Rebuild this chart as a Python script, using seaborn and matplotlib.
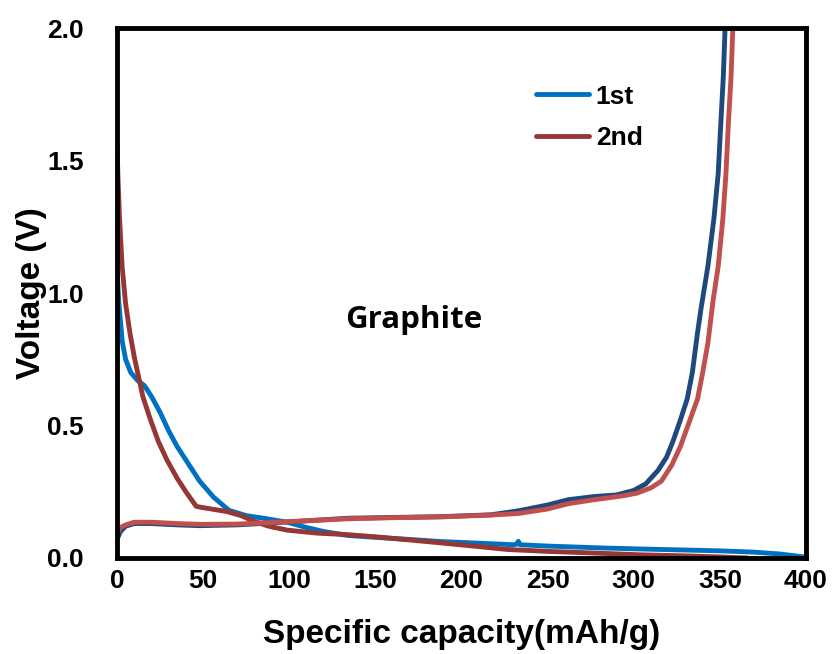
import matplotlib
matplotlib.use("Agg")
import matplotlib.pyplot as plt
import seaborn as sns
import pandas as pd

# ---- data ----
dis1_cap = [0, 1, 3, 5, 8, 12, 16, 20, 25, 30, 35, 40, 48, 56, 65, 75, 85, 99, 110, 120,
            134, 150, 170, 188, 210, 230, 232, 233, 234, 250, 281, 304, 330, 350, 370, 385, 400]
dis1_v = [1.10, 0.97, 0.82, 0.75, 0.70, 0.67, 0.65, 0.61, 0.55, 0.48, 0.42, 0.37, 0.29, 0.23,
          0.18, 0.16, 0.15, 0.135, 0.115, 0.10, 0.085, 0.078, 0.070, 0.062, 0.056, 0.050,
          0.052, 0.063, 0.050, 0.045, 0.038, 0.034, 0.030, 0.027, 0.022, 0.015, 0.003]

chg1_cap = [0, 2, 5, 10, 20, 35, 48, 70, 99, 134, 160, 188, 217, 233, 250, 262, 277, 290,
            300, 307, 314, 319, 323, 327, 331, 334, 337, 339, 343, 346.5, 349, 350.6, 352, 353]
chg1_v = [0.07, 0.10, 0.12, 0.13, 0.13, 0.125, 0.122, 0.125, 0.136, 0.15, 0.153, 0.156,
          0.163, 0.178, 0.20, 0.22, 0.232, 0.238, 0.255, 0.28, 0.33, 0.38, 0.445, 0.52,
          0.60, 0.70, 0.85, 0.94, 1.10, 1.28, 1.45, 1.65, 1.82, 2.0]

dis2_cap = [0, 0.5, 1.5, 3, 5, 7.5, 10, 12, 15, 19, 24, 29, 35, 40, 46, 50, 64, 72, 79, 88,
            99, 116, 134, 150, 170, 188, 210, 227, 250, 280, 304, 330, 350, 366]
dis2_v = [1.57, 1.45, 1.28, 1.10, 0.96, 0.85, 0.76, 0.70, 0.61, 0.53, 0.44, 0.37, 0.30,
          0.25, 0.195, 0.19, 0.175, 0.16, 0.14, 0.12, 0.105, 0.094, 0.088, 0.08, 0.068,
          0.057, 0.043, 0.032, 0.025, 0.018, 0.012, 0.008, 0.004, 0.0]

chg2_cap = [0, 2, 5, 10, 20, 35, 48, 70, 99, 134, 160, 188, 217, 233, 250, 262, 277, 294,
            302, 310, 316, 322, 327, 332, 337, 340, 343, 346, 349, 351.7, 353.5, 355, 356.5, 357.5]
chg2_v = [0.09, 0.115, 0.125, 0.135, 0.135, 0.13, 0.127, 0.128, 0.137, 0.148, 0.152, 0.155,
          0.162, 0.168, 0.185, 0.205, 0.22, 0.235, 0.245, 0.265, 0.29, 0.35, 0.42, 0.51,
          0.60, 0.70, 0.81, 0.97, 1.10, 1.28, 1.45, 1.65, 1.82, 2.0]

x_ticks = [0, 50, 100, 150, 200, 250, 300, 350, 400]
y_ticks = [0.0, 0.5, 1.0, 1.5, 2.0]
y_ticklabels = ["0.0", "0.5", "1.0", "1.5", "2.0"]

# ---- style ----
sns.set_theme(style="white")
plt.rcParams["font.family"] = ["Liberation Sans", "DejaVu Sans"]
plt.rcParams["font.weight"] = "bold"
for k in ["text.color", "axes.labelcolor", "xtick.color", "ytick.color"]:
    plt.rcParams[k] = "black"

fig = plt.figure(figsize=(8.32, 6.54), dpi=100)
ax = fig.add_axes([0.1406, 0.1468, 0.8282, 0.8102])

lw = 3.5
segments = [
    (dis1_cap, dis1_v, "#0070C0", "1st"),
    (chg1_cap, chg1_v, "#1F497D", None),
    (dis2_cap, dis2_v, "#953735", "2nd"),
    (chg2_cap, chg2_v, "#C0504D", None),
]
for cap, v, col, lab in segments:
    df = pd.DataFrame({"cap": cap, "v": v})
    sns.lineplot(data=df, x="cap", y="v", sort=False, color=col, linewidth=lw,
                 label=lab, ax=ax, estimator=None)

ax.set_xlim(0, 400)
ax.set_ylim(0, 2.0)
ax.set_xticks(x_ticks)
ax.set_xticklabels([str(t) for t in x_ticks], fontsize=19, fontweight="bold")
ax.set_yticks(y_ticks)
ax.set_yticklabels(y_ticklabels, fontsize=19, fontweight="bold")
ax.tick_params(axis="x", direction="in", length=6, width=1.5, color="black", pad=8)
ax.tick_params(axis="y", direction="in", length=6, width=1.5, color="black", pad=24)

for s in ax.spines.values():
    s.set_visible(True)
    s.set_color("black")
    s.set_linewidth(3.5)

ax.set_xlabel("Specific capacity(mAh/g)", fontsize=24, fontweight="bold", labelpad=19)
ax.set_ylabel("Voltage (V)", fontsize=24, fontweight="bold", labelpad=0)

ax.text(0.43, 0.45, "Graphite", transform=ax.transAxes, ha="center", va="center",
        fontsize=22.5, fontweight="bold", family=["Open Sans", "DejaVu Sans"])

leg = ax.legend(loc="upper left", bbox_to_anchor=(0.574, 0.938), frameon=False,
                handlelength=2.0, handletextpad=0.25, labelspacing=0.65,
                prop={"weight": "bold", "size": 19})
for line in leg.get_lines():
    line.set_linewidth(3.5)
    line.set_solid_capstyle("round")

fig.savefig("out.png", dpi=100)
